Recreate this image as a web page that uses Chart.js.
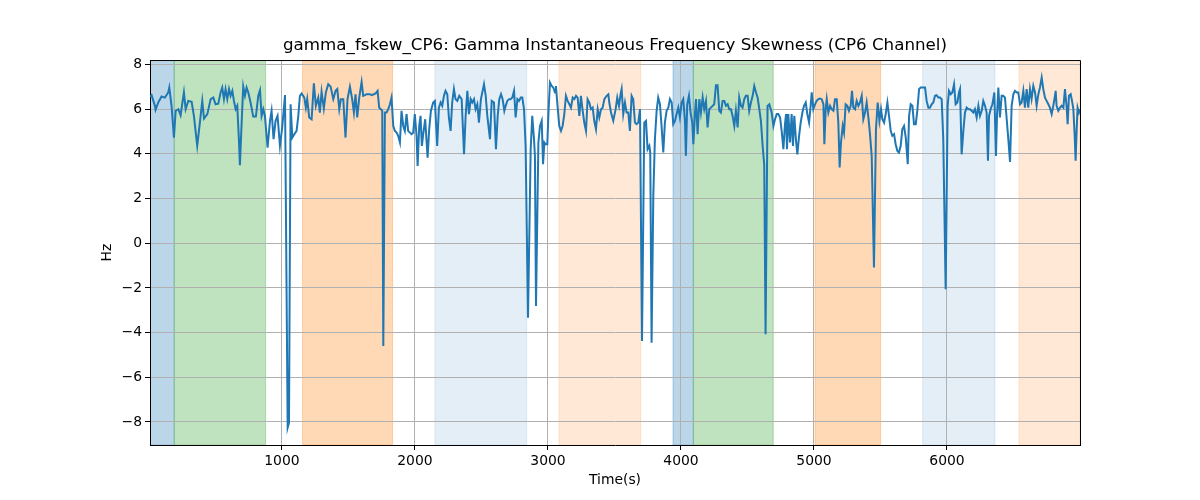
<!DOCTYPE html>
<html>
<head>
<meta charset="utf-8">
<title>gamma_fskew_CP6</title>
<script src="https://cdn.jsdelivr.net/npm/chart.js@4.4.0/dist/chart.umd.min.js"></script>
<style>
    body { margin: 0; background: #fff; }
    #wrap { width: 1200px; height: 500px; }
</style>
</head>
<body>
<div id="wrap"><canvas id="fskewChart" width="1200" height="500"></canvas></div>
<script>
// sample times (s) and skewness values (Hz)
const times = [
    8,20,45,50,70,95,120,145,153,170,
    188,201,221,238,263,276,296,321,338,363,
    383,401,414,439,464,484,501,521,539,551,
    564,576,589,602,614,627,639,652,664,677,
    684,697,709,722,734,747,764,784,804,822,
    835,847,860,872,892,910,922,937,952,967,
    985,1002,1023,1043,1053,1065,1078,1093,1110,1123,
    1135,1148,1168,1180,1190,1205,1223,1240,1255,1273,
    1285,1298,1315,1330,1348,1366,1386,1403,1416,1431,
    1443,1461,1478,1493,1511,1528,1541,1553,1566,1581,
    1599,1611,1624,1636,1661,1674,1691,1706,1719,1731,
    1744,1754,1762,1774,1787,1799,1812,1824,1837,1849,
    1862,1874,1887,1899,1912,1924,1937,1949,1962,1974,
    1987,1999,2012,2020,2032,2042,2052,2062,2077,2095,
    2107,2120,2137,2150,2167,2180,2193,2205,2218,2230,
    2243,2255,2268,2280,2293,2305,2318,2333,2351,2369,
    2381,2394,2406,2419,2431,2444,2456,2469,2481,2496,
    2519,2532,2544,2564,2577,2594,2609,2622,2634,2647,
    2659,2672,2682,2694,2707,2719,2732,2745,2757,2770,
    2782,2795,2807,2820,2832,2850,2870,2882,2895,2902,
    2910,2928,2940,2953,2963,2973,2983,2995,3005,3015,
    3028,3040,3053,3060,3073,3085,3098,3110,3123,3135,
    3148,3161,3173,3186,3198,3211,3223,3236,3248,3261,
    3273,3286,3298,3311,3323,3336,3348,3361,3374,3386,
    3399,3411,3424,3441,3454,3461,3474,3491,3509,3521,
    3534,3546,3554,3566,3579,3591,3604,3616,3629,3641,
    3654,3666,3679,3692,3707,3724,3737,3749,3762,3769,
    3779,3792,3804,3817,3829,3842,3854,3867,3879,3892,
    3905,3917,3930,3942,3955,3967,3980,3992,4005,4017,
    4030,4037,4047,4060,4072,4085,4093,4105,4113,4125,
    4138,4150,4163,4175,4188,4200,4213,4225,4238,4250,
    4263,4275,4288,4300,4313,4326,4338,4351,4363,4376,
    4388,4401,4413,4426,4438,4451,4463,4476,4488,4501,
    4513,4526,4539,4551,4564,4576,4589,4601,4614,4626,
    4636,4651,4664,4682,4695,4707,4720,4732,4745,4757,
    4770,4782,4790,4797,4807,4820,4832,4842,4852,4865,
    4875,4888,4900,4913,4925,4938,4950,4963,4975,4983,
    4995,5008,5020,5033,5045,5058,5071,5078,5088,5096,
    5108,5121,5133,5146,5158,5171,5183,5193,5203,5216,
    5226,5238,5251,5263,5276,5286,5296,5309,5321,5334,
    5346,5359,5371,5384,5396,5409,5421,5434,5451,5466,
    5479,5492,5504,5514,5527,5539,5552,5564,5577,5589,
    5602,5614,5627,5639,5652,5664,5677,5690,5705,5715,
    5727,5740,5752,5765,5777,5790,5802,5822,5835,5847,
    5860,5872,5885,5897,5910,5922,5935,5947,5960,5972,
    5990,6005,6015,6028,6040,6053,6065,6078,6090,6098,
    6110,6123,6135,6148,6160,6173,6185,6198,6210,6223,
    6236,6248,6261,6273,6286,6298,6308,6316,6328,6341,
    6348,6356,6368,6376,6386,6398,6411,6423,6436,6449,
    6461,6474,6486,6499,6511,6524,6536,6549,6561,6574,
    6586,6599,6611,6624,6636,6649,6662,6674,6687,6699,
    6712,6724,6737,6749,6762,6774,6787,6799,6812,6817,
    6824,6837,6850,6862,6875,6887,6900,6907,6917,6930,
    6940,6950,6960,6967,6975,6982,6992,7000
];
const fskew = [
    6.55,6.63,6.15,5.97,6.30,6.57,6.52,6.75,6.97,6.15,
    4.73,5.93,6.00,5.73,6.75,6.00,6.37,6.33,5.70,4.36,
    5.40,6.37,5.58,5.78,6.45,6.52,6.22,6.25,6.75,6.97,
    6.45,6.90,6.45,6.90,6.60,6.82,6.37,6.00,6.15,4.58,
    3.49,5.40,7.01,6.60,6.97,6.75,6.30,5.67,5.67,6.60,
    6.85,5.70,6.00,5.70,4.28,5.48,5.93,4.66,5.48,5.70,
    4.36,5.18,6.63,-8.25,-8.03,6.22,4.73,4.88,5.03,5.70,
    6.60,6.70,6.52,6.07,6.45,5.63,5.55,7.16,6.15,6.52,
    5.85,6.78,6.03,6.75,7.12,7.01,6.45,6.82,6.90,6.00,
    6.45,6.45,4.73,6.45,7.01,6.45,5.85,6.67,5.63,6.52,
    7.22,6.60,6.63,6.67,6.67,6.63,6.67,6.72,6.82,6.07,
    6.00,5.93,-4.60,5.85,5.85,6.00,6.22,6.52,5.25,5.03,
    4.95,4.81,4.51,5.93,5.25,5.03,5.78,5.03,4.95,4.88,
    4.95,5.78,4.81,3.46,5.25,5.70,4.36,4.88,5.55,3.83,
    5.10,5.93,6.30,6.37,4.36,6.07,6.30,6.15,6.60,6.82,
    6.67,5.63,5.03,6.30,6.90,6.45,6.37,6.60,6.45,3.98,
    5.70,6.82,5.78,6.45,6.30,6.45,6.00,6.22,5.40,6.45,
    7.12,6.60,5.70,4.66,6.37,6.30,4.21,5.70,6.45,6.67,
    6.45,5.93,6.15,6.37,6.45,6.45,6.52,6.82,5.63,6.45,
    6.37,6.52,6.52,6.00,4.36,-3.33,4.21,5.70,4.66,3.91,
    -2.81,4.51,5.25,5.48,3.54,4.51,4.43,4.43,6.00,7.19,
    7.04,6.97,6.75,7.04,6.07,5.25,5.03,5.25,5.78,6.60,
    6.37,6.22,6.07,6.52,6.45,6.60,6.52,5.70,6.60,5.93,
    5.40,5.03,6.45,6.30,6.00,6.07,5.48,5.10,6.00,5.63,
    6.00,6.07,6.45,6.60,6.67,6.30,5.85,5.48,6.00,6.52,
    6.15,6.67,6.90,5.78,6.30,5.85,5.85,5.03,6.60,6.45,
    5.40,5.33,5.40,6.00,-4.37,5.40,5.48,4.21,4.36,4.06,
    -4.45,2.12,4.66,5.93,6.52,6.22,5.25,4.06,5.40,5.93,
    6.07,6.45,6.30,5.33,5.48,5.78,6.07,5.63,6.30,6.45,
    5.48,3.91,6.22,6.60,5.85,5.40,4.43,5.78,6.45,4.88,
    6.45,5.85,6.52,6.00,6.37,5.18,6.00,6.07,6.15,6.22,
    7.07,7.07,5.93,5.85,6.37,6.37,6.15,6.22,6.00,6.00,
    5.70,5.25,5.93,5.18,6.52,6.15,6.07,6.45,6.60,6.60,
    5.93,6.30,6.60,7.04,6.75,6.52,6.00,5.48,4.36,3.50,
    -4.07,6.15,6.22,5.85,5.25,5.55,5.78,5.78,5.63,5.03,
    4.21,5.33,5.78,4.21,5.78,4.51,5.78,4.36,5.70,4.58,
    3.98,4.81,5.40,5.85,6.15,6.30,5.78,5.40,6.15,6.75,
    6.00,6.22,6.37,6.45,6.48,6.45,6.22,4.43,6.00,6.45,
    5.85,6.15,6.00,5.93,6.45,6.45,5.40,3.39,4.51,5.25,
    4.95,6.22,6.15,5.93,6.15,6.82,6.07,6.00,6.37,6.15,
    6.30,6.60,5.55,5.85,6.30,5.63,4.88,3.91,-1.09,5.10,
    6.30,5.48,6.00,5.55,5.40,5.78,6.30,5.70,5.03,4.81,
    4.88,4.43,4.13,4.06,4.36,5.10,5.25,4.73,3.54,5.70,
    6.22,6.15,5.33,5.33,5.93,6.90,6.97,6.97,6.97,6.37,
    6.07,6.07,6.22,6.30,6.60,6.63,6.52,6.52,6.45,4.66,
    -2.06,6.15,6.82,6.67,6.75,7.12,6.22,6.30,6.75,6.90,
    3.98,5.03,5.85,6.07,6.00,6.00,5.93,5.85,6.00,5.63,
    6.15,5.70,5.93,6.37,6.15,5.85,3.69,5.70,6.00,6.22,
    6.45,6.75,3.91,5.70,6.97,5.63,6.60,6.60,6.52,5.55,
    4.66,3.64,6.15,6.67,6.82,6.75,6.75,6.22,6.30,6.82,
    6.07,6.90,6.07,6.90,6.45,7.04,6.75,6.15,6.67,6.97,
    7.42,6.90,6.52,6.37,6.22,6.07,5.78,6.15,6.60,6.82,
    6.15,5.93,6.07,6.15,6.07,6.90,6.07,5.33,6.60,6.67,
    6.37,6.00,4.81,3.69,5.10,6.07,5.85,6.00
];

// shaded segments (start/end in seconds) and their segment type
const bandStarts = [8, 190, 1155, 2150, 3083, 3940, 4093, 5008, 5817, 6541];
const bandEnds = [190, 877, 1832, 2840, 3697, 4093, 4694, 5501, 6361, 7000];
const bandKinds = ['A', 'B', 'C', 'D', 'E', 'A', 'B', 'C', 'D', 'E'];

const xTicks = [1000, 2000, 3000, 4000, 5000, 6000];
const yTicks = [-8, -6, -4, -2, 0, 2, 4, 6, 8];

const bandColors = {
    A: 'rgba(31, 119, 180, 0.3)',
    B: 'rgba(44, 160, 44, 0.3)',
    C: 'rgba(255, 127, 14, 0.3)',
    D: 'rgba(31, 119, 180, 0.12)',
    E: 'rgba(255, 127, 14, 0.17)'
};

const FONT = 'DejaVu Sans';

// draws the shaded segments behind grid and line
const bandsPlugin = {
    id: 'bands',
    beforeDraw(chart) {
        const { ctx, chartArea, scales: { x } } = chart;
        ctx.save();
        ctx.beginPath();
        ctx.rect(chartArea.left, chartArea.top, chartArea.right - chartArea.left, chartArea.bottom - chartArea.top);
        ctx.clip();
        bandStarts.forEach((start, i) => {
            const x0 = x.getPixelForValue(start);
            const x1 = x.getPixelForValue(bandEnds[i]);
            ctx.fillStyle = bandColors[bandKinds[i]];
            ctx.fillRect(x0, chartArea.top, x1 - x0, chartArea.bottom - chartArea.top);
            ctx.strokeStyle = bandColors[bandKinds[i]];
            ctx.lineWidth = 1;
            ctx.strokeRect(x0, chartArea.top, x1 - x0, chartArea.bottom - chartArea.top);
        });
        ctx.restore();
    }
};

// top and right spines like matplotlib
const framePlugin = {
    id: 'frame',
    afterDraw(chart) {
        const { ctx, chartArea } = chart;
        ctx.save();
        ctx.strokeStyle = '#000';
        ctx.lineWidth = 1;
        ctx.beginPath();
        ctx.moveTo(chartArea.left, chartArea.top + 0.5);
        ctx.lineTo(chartArea.right + 0.5, chartArea.top + 0.5);
        ctx.lineTo(chartArea.right + 0.5, chartArea.bottom);
        ctx.stroke();
        ctx.restore();
    }
};

function createChart() {
    const ctx = document.getElementById('fskewChart').getContext('2d');
    const points = times.map((t, i) => ({ x: t, y: fskew[i] }));

    new Chart(ctx, {
        type: 'line',
        data: {
            datasets: [{
                label: 'gamma_fskew_CP6',
                data: points,
                borderColor: '#1f77b4',
                borderWidth: 2,
                pointRadius: 0,
                tension: 0,
                fill: false
            }]
        },
        options: {
            responsive: false,
            animation: false,
            layout: { padding: { left: 30, right: 0, top: 0, bottom: 0 } },
            scales: {
                x: {
                    type: 'linear',
                    min: 8,
                    max: 7000,
                    afterBuildTicks: scale => { scale.ticks = xTicks.map(v => ({ value: v })); },
                    afterFit: scale => { scale.height = 55; },
                    ticks: {
                        color: '#000',
                        font: { family: FONT, size: 13.9 },
                        padding: 3,
                        maxRotation: 0,
                        callback: v => String(v)
                    },
                    grid: { color: '#b0b0b0', lineWidth: 1, tickColor: '#000', tickLength: 5, tickWidth: 1 },
                    border: { color: '#000', width: 1 },
                    title: {
                        display: true,
                        text: 'Time(s)',
                        color: '#000',
                        font: { family: FONT, size: 13.9 },
                        padding: { top: 0, bottom: 11 }
                    }
                },
                y: {
                    type: 'linear',
                    min: -9.03,
                    max: 8.2,
                    afterBuildTicks: scale => { scale.ticks = yTicks.map(v => ({ value: v })); },
                    afterFit: scale => { scale.width = 120; },
                    ticks: {
                        color: '#000',
                        font: { family: FONT, size: 13.9 },
                        padding: 3,
                        callback: v => (v < 0 ? '\u2212' + Math.abs(v) : String(v))
                    },
                    grid: { color: '#b0b0b0', lineWidth: 1, tickColor: '#000', tickLength: 5, tickWidth: 1 },
                    border: { color: '#000', width: 1 },
                    title: {
                        display: true,
                        text: 'Hz',
                        color: '#000',
                        font: { family: FONT, size: 13.9 },
                        padding: { top: 69, bottom: 0 }
                    }
                },
                // empty right-hand scale that only reserves the right margin
                yRight: {
                    type: 'linear',
                    position: 'right',
                    display: true,
                    afterFit: scale => { scale.width = 120; },
                    ticks: { display: false },
                    grid: { display: false, drawTicks: false },
                    border: { display: false }
                }
            },
            plugins: {
                legend: { display: false },
                tooltip: { enabled: false },
                title: {
                    display: true,
                    text: 'gamma_fskew_CP6: Gamma Instantaneous Frequency Skewness (CP6 Channel)',
                    color: '#000',
                    font: { family: FONT, size: 16.7, weight: 'normal' },
                    padding: { top: 36, bottom: 4 }
                }
            }
        },
        plugins: [bandsPlugin, framePlugin]
    });
}

document.addEventListener('DOMContentLoaded', createChart);
</script>
</body>
</html>
